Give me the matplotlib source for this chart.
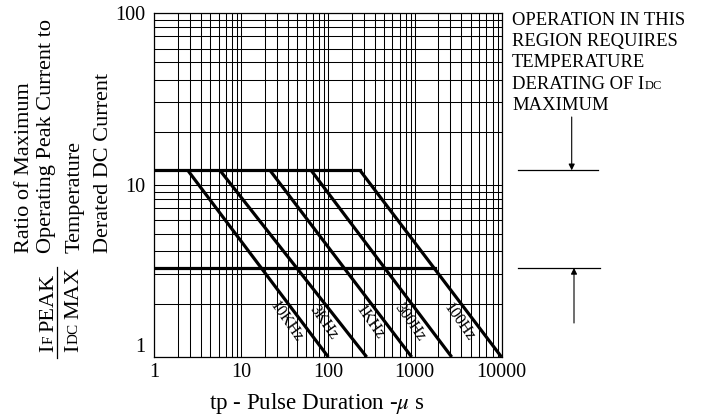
import numpy as np
import matplotlib
matplotlib.use('Agg')
import matplotlib.pyplot as plt
import matplotlib.transforms as mtransforms
from matplotlib.ticker import FixedLocator, NullFormatter

plt.rcParams['font.family'] = ['Liberation Serif', 'DejaVu Serif']
plt.rcParams['mathtext.fontset'] = 'stix'

# pulse lines: from the peak limit (start) down to ratio 1 (end)
freq_labels = ['10KHz', '3KHz', '1KHz', '300Hz', '100Hz']
tp_start = [2.43, 5.7, 21.5, 64, 234]
tp_end = [101, 280, 923, 2670, 10000]
peak_limit = 12.2
derating_level = 3.3
derating_tp = [1, 1720]

x_ticks = [1, 10, 100, 1000, 10000]
y_ticks = [1, 10, 100]

# the printed grid is not a true log grid, these are its offsets per decade
x_frac = [0.274, 0.412, 0.539, 0.647, 0.743, 0.826, 0.897, 0.955]
y_frac = [0.308, 0.481, 0.614, 0.717, 0.795, 0.865, 0.918, 0.963]

W, H = 706, 417
fig = plt.figure(figsize=(W / 100, H / 100), dpi=100)
ax = fig.add_axes([154.3 / W, 1 - 357 / H, 347.2 / W, 343.7 / H])
ax.set_xscale('log')
ax.set_yscale('log')
ax.set_xlim(1, 10000)
ax.set_ylim(1, 100)

ax.set_xticks(x_ticks, labels=[str(v) for v in x_ticks])
ax.set_yticks(y_ticks, labels=[str(v) for v in y_ticks])
ax.xaxis.set_minor_locator(FixedLocator([10 ** (d + f) for d in range(4) for f in x_frac]))
ax.yaxis.set_minor_locator(FixedLocator([10 ** (d + f) for d in range(2) for f in y_frac]))
ax.xaxis.set_minor_formatter(NullFormatter())
ax.yaxis.set_minor_formatter(NullFormatter())
ax.tick_params(which='both', length=0, labelsize=14.5)
ax.tick_params(axis='x', pad=4.5)
ax.tick_params(axis='y', pad=6.5)
ax.get_yticklabels()[0].set_verticalalignment('bottom')
ax.grid(which='both', color='black', lw=0.75)
for sp in ax.spines.values():
    sp.set_linewidth(0.9)

# heavy curves
ax.plot([1, tp_start[-1]], [peak_limit, peak_limit], color='black', lw=2.3)
ax.plot(derating_tp, [derating_level, derating_level], color='black', lw=2.3)
for s, e, lab in zip(tp_start, tp_end, freq_labels):
    ax.plot([s, e], [peak_limit, 1], color='black', lw=2.3, solid_capstyle='butt')
    # spot on the line at ratio 1.6, label sits just left of it
    t = np.log10(peak_limit / 1.6) / np.log10(peak_limit)
    xl = 10 ** (np.log10(s) + t * (np.log10(e) - np.log10(s)))
    ax.annotate(lab, (xl, 1.6), xytext=(-11, 0), textcoords='offset points',
                rotation=-55, ha='center', va='center', fontsize=11.5)

# right hand note with arrows
trans = mtransforms.blended_transform_factory(fig.transFigure, ax.transData)
ax.plot([518 / W, 598 / W], [peak_limit, peak_limit], color='black', lw=0.9,
        transform=trans, clip_on=False)
ax.plot([518 / W, 600 / W], [derating_level, derating_level], color='black', lw=0.9,
        transform=trans, clip_on=False)
arw = dict(arrowstyle='-|>', color='black', lw=0.8, mutation_scale=9, shrinkA=0, shrinkB=0)
ax.annotate('', xy=(571.7 / W, peak_limit), xycoords=trans,
            xytext=(571.7 / W, 1 - 117 / H), textcoords='figure fraction', arrowprops=arw)
ax.annotate('', xy=(574 / W, derating_level), xycoords=trans,
            xytext=(574 / W, 1 - 323 / H), textcoords='figure fraction', arrowprops=arw)


def rich(x, y, parts, rotation=0):
    # x, y in pixels from the top left; parts are (text, size, gap after in px)
    r = fig.canvas.get_renderer()
    for s, size, gap in parts:
        t = fig.text(x / W, 1 - y / H, s, fontsize=size, rotation=rotation,
                     rotation_mode='anchor', ha='left', va='baseline')
        bb = t.get_window_extent(r)
        if rotation:
            y -= bb.height + gap
        else:
            x += bb.width + gap


note = ['OPERATION IN THIS', 'REGION REQUIRES', 'TEMPERATURE', None, 'MAXIMUM']
for i, line in enumerate(note):
    yb = 25 + 21.2 * i
    if line is None:
        rich(512, yb, [('DERATING OF I', 13.4, 0.5), ('DC', 9, 0)])
    else:
        fig.text(512 / W, 1 - yb / H, line, fontsize=13.4, ha='left', va='baseline')

# y axis title
ylab = ['Ratio of Maximum', 'Operating Peak Current to', 'Temperature', 'Derated DC Current']
for xb, line in zip([29, 51, 80, 108], ylab):
    fig.text(xb / W, 1 - 253 / H, line, fontsize=16, rotation=90,
             rotation_mode='anchor', ha='left', va='baseline')
rich(53, 352, [('I', 16, 0.5), ('F', 11, 4), ('PEAK', 16, 0)], rotation=90)
rich(78, 352, [('I', 16, 0.5), ('DC', 11, 4), ('MAX', 16, 0)], rotation=90)
fig.add_artist(plt.Line2D([57 / W, 57 / W], [1 - 358 / H, 1 - 267 / H], color='black', lw=0.9))

fig.text(317 / W, 1 - 409 / H, r'tp - Pulse Duration -$\mu$ s', ha='center',
         va='baseline', fontsize=16.6)

fig.savefig('out.png', dpi=100)
